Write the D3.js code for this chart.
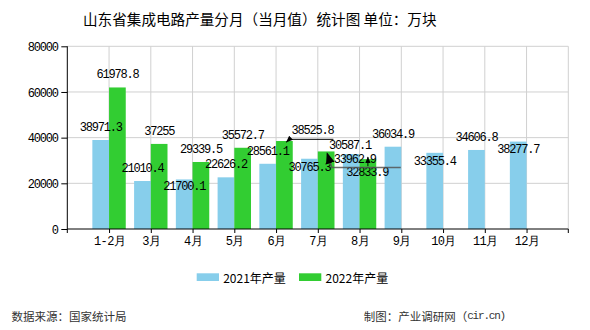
<!DOCTYPE html>
<html><head><meta charset="utf-8">
<script src="https://cdn.jsdelivr.net/npm/d3@7"></script>
<style>
html,body{margin:0;padding:0;background:#fff;}
svg{display:block;}
.num{font-family:"Liberation Mono","DejaVu Sans Mono",monospace;font-size:12px;letter-spacing:-1.2px;fill:#000;}
</style></head>
<body><svg id="c" width="590" height="330"></svg>
<script>
const categories = ["1-2月","3月","4月","5月","6月","7月","8月","9月","10月","11月","12月"];
const values2021 = [38971.3,21010.4,21700.1,22626.2,28561.1,30765.3,32833.9,36034.9,33355.4,34606.8,38277.7];
const values2022 = [61978.8,37255,29339.5,35572.7,38525.8,33962.9,30587.1];
const yTicks = [0,20000,40000,60000,80000];
const seriesNames = ["2021年产量","2022年产量"];
const colors = ["#87CEEB","#32CD32"];

const svg = d3.select("#c");
const L=67.3, R=568.3, T=46.3, B=229;
const x = d3.scalePoint().domain(categories).range([L,R]).padding(1);
const y = d3.scaleLinear().domain([0,80000]).range([B,T]);
const bw = x.step()*0.4;

// defs arrow
const defs = svg.append("defs");
defs.append("marker").attr("id","arr").attr("viewBox","0 0 10 10").attr("refX",9).attr("refY",5)
  .attr("markerWidth",7).attr("markerHeight",7).attr("orient","auto-start-reverse")
  .append("path").attr("d","M0,1 L10,5 L0,9 z").attr("fill","#000");

// title
svg.append("text").attr("x",83).attr("y",18.5).attr("dominant-baseline","central")
  .style("font-family","'Noto Sans CJK SC'").style("font-size","14.6px").style("fill","#000")
  .text("山东省集成电路产量分月（当月值）统计图 单位：万块");

// grid
const g = svg.append("g");
g.selectAll(".hg").data(yTicks.filter(d=>d>0)).enter().append("line")
  .attr("x1",L).attr("x2",R).attr("y1",d=>y(d)).attr("y2",d=>y(d))
  .attr("stroke","#d0d0d0").attr("stroke-width",1);
g.selectAll(".vg").data(categories).enter().append("line")
  .attr("x1",d=>x(d)).attr("x2",d=>x(d)).attr("y1",T).attr("y2",B)
  .attr("stroke","#d0d0d0").attr("stroke-width",1);
g.append("line").attr("x1",R).attr("x2",R).attr("y1",T).attr("y2",B).attr("stroke","#d0d0d0");

// bars
const bars = svg.append("g");
bars.selectAll(".b1").data(values2021).enter().append("rect")
  .attr("x",(d,i)=>x(categories[i])-bw).attr("width",bw)
  .attr("y",d=>y(d)).attr("height",d=>B-y(d)).attr("fill",colors[0]);
bars.selectAll(".b2").data(values2022).enter().append("rect")
  .attr("x",(d,i)=>x(categories[i])).attr("width",bw)
  .attr("y",d=>y(d)).attr("height",d=>B-y(d)).attr("fill",colors[1]);

// axes
const yAxis = d3.axisLeft(y).tickValues(yTicks).tickSize(6).tickPadding(3.5).tickFormat(d=>String(d));
const ya = svg.append("g").attr("transform",`translate(${L},0)`).call(yAxis);
ya.select(".domain").remove();
ya.append("line").attr("x1",0).attr("x2",0).attr("y1",T).attr("y2",B+4).attr("stroke","#000");
ya.selectAll(".tick line").attr("stroke","#000");
ya.selectAll(".tick text").attr("class","num").attr("dy","0.35em").style("font-size",null).style("font-family",null);
ya.attr("font-family",null).attr("font-size",null);

const xAxis = d3.axisBottom(x).tickSize(4).tickPadding(6);
const xa = svg.append("g").attr("transform",`translate(0,${B})`).call(xAxis);
xa.select(".domain").remove();
xa.append("line").attr("x1",L).attr("x2",R).attr("y1",0).attr("y2",0).attr("stroke","#000");
xa.append("line").attr("x1",R).attr("x2",R).attr("y1",0).attr("y2",4).attr("stroke","#000");
xa.selectAll(".tick line").attr("stroke","#000");
xa.attr("font-family",null).attr("font-size",null);
xa.selectAll(".tick text").attr("class","num").attr("y",13).attr("dy","0").attr("dominant-baseline","central")
  .style("letter-spacing","-0.6px");

// labels
const off2021 = [[0,0],[0,0],[0,20],[0,0],[0,0],[0,21],[16,31],[0,0],[0,21],[0,0],[0,20]];
const off2022 = [[0,0],[0,0],[0,0],[0,0],[28,2],[28.6,20.6],[-18,-1.4]];
const lab = svg.append("g");
function addLabels(vals, offs, side){
  return vals.map((v,i)=>{
    const bx = x(categories[i]) + (side<0 ? -bw/2 : bw/2);
    const top = y(v);
    const cx = bx + offs[i][0], cy = top - 12 + offs[i][1];
    const t = lab.append("text").attr("class","num").attr("x",cx).attr("y",cy)
      .attr("text-anchor","middle").attr("dominant-baseline","central").text(String(v));
    const w = t.node().getComputedTextLength();
    return {bx, top, cx, cy, w};
  });
}
addLabels(values2021, off2021, -1);
const L2 = addLabels(values2022, off2022, 1);

// leader lines
const lead = svg.append("g");
{ const p = L2[4]; const uy = p.cy+8.3;
  lead.append("path").attr("d",`M${p.cx+p.w/2},${uy} L${p.cx-p.w/2-2},${uy} L${p.bx+2},${p.top+1}`)
    .attr("fill","none").attr("stroke","#000").attr("stroke-width",1).attr("marker-end","url(#arr)"); }
{ const p = L2[5]; const uy = p.cy+7.5;
  lead.append("path").attr("d",`M${p.cx+p.w/2+25},${uy} L${p.cx-p.w/2-2},${uy} L${p.bx+1},${p.top+2}`)
    .attr("fill","none").attr("stroke","#555").attr("stroke-width",1.6).attr("stroke-opacity",0.85).attr("marker-end","url(#arr)"); }
{ const p = L2[6];
  lead.append("path").attr("d",`M${p.bx},${p.top+7} L${p.bx},${p.top-2}`)
    .attr("fill","none").attr("stroke","#000").attr("stroke-width",1).attr("marker-end","url(#arr)"); }

// legend
const leg = svg.append("g");
const legX = [196.7, 299];
seriesNames.forEach((n,i)=>{
  leg.append("rect").attr("x",legX[i]).attr("y",273.3).attr("width",22.3).attr("height",7.7).attr("fill",colors[i]);
  leg.append("text").attr("x",legX[i]+26.5).attr("y",277.3).attr("dominant-baseline","central")
    .style("font-family","'Noto Sans CJK SC'").style("font-size","12px").style("fill","#000").text(n);
});

// footer
svg.append("text").attr("x",11.5).attr("y",315.5).attr("dominant-baseline","central")
  .style("font-family","'Noto Sans CJK SC'").style("font-size","11.5px").style("fill","#333")
  .text("数据来源：国家统计局");
const ft = svg.append("text").attr("x",505).attr("y",315.5).attr("dominant-baseline","central").attr("text-anchor","end")
  .style("font-family","'Noto Sans CJK SC'").style("font-size","11.5px").style("fill","#333");
ft.append("tspan").text("制图：产业调研网（");
ft.append("tspan").attr("class","num").style("font-size","11px").style("fill","#333").text("cir.cn)");
</script></body></html>
